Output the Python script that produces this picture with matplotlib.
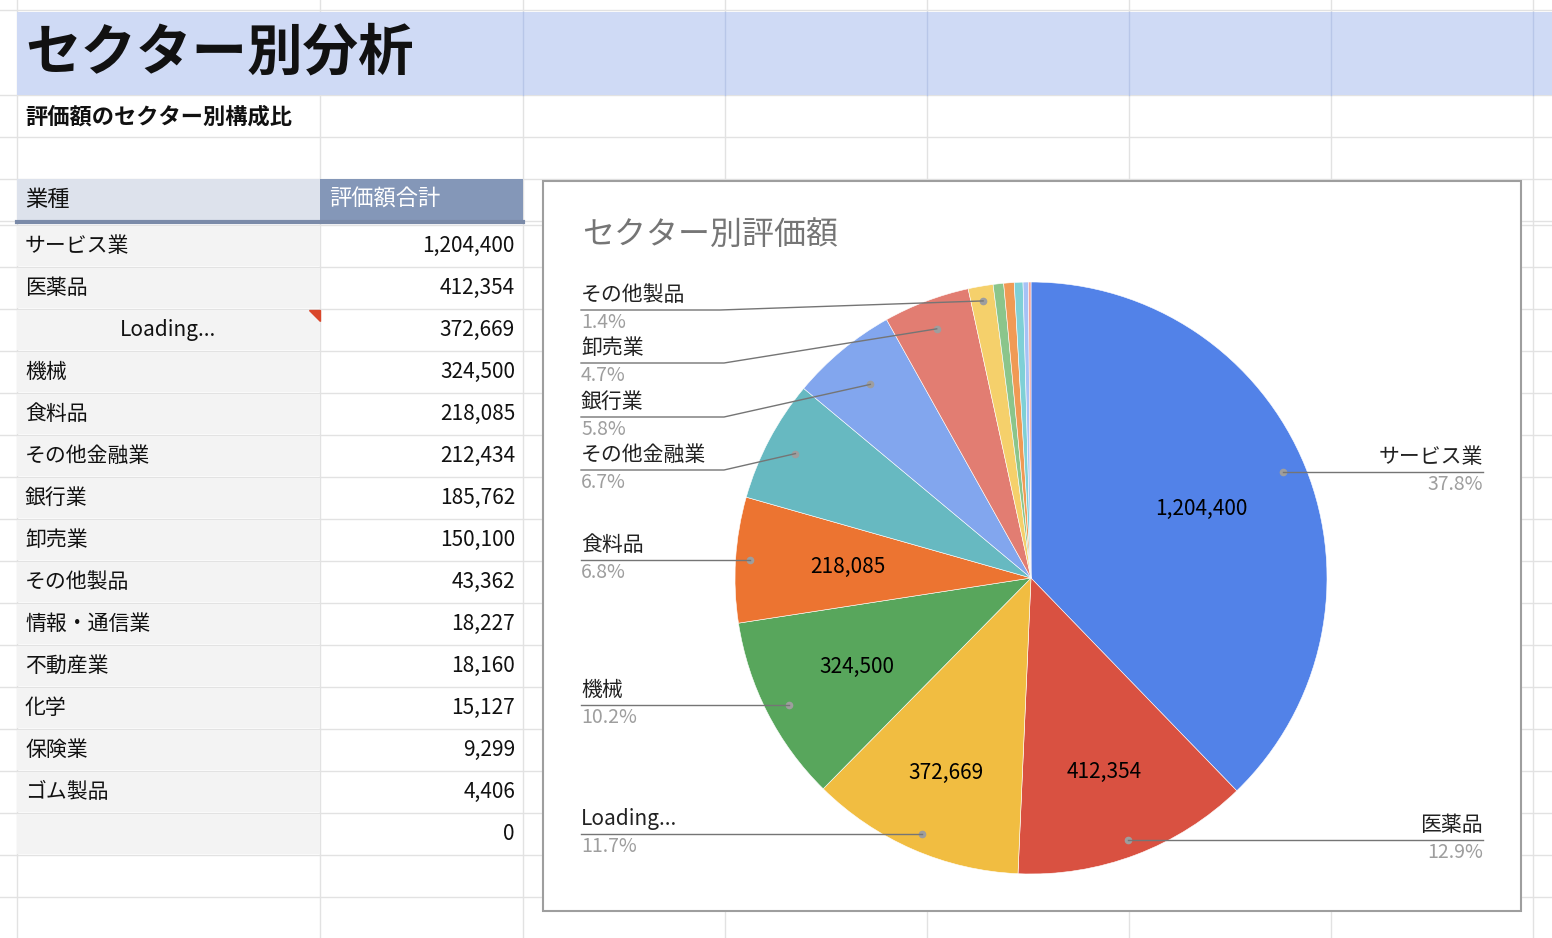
import matplotlib
matplotlib.use("Agg")
import matplotlib.pyplot as plt
from matplotlib.patches import Rectangle, Polygon
import numpy as np

plt.rcParams["font.family"] = ["Noto Sans CJK JP", "DejaVu Sans"]

title = "セクター別分析"
subtitle = "評価額のセクター別構成比"
col_headers = ["業種", "評価額合計"]
categories = ["サービス業", "医薬品", "Loading...", "機械", "食料品", "その他金融業", "銀行業",
              "卸売業", "その他製品", "情報・通信業", "不動産業", "化学", "保険業", "ゴム製品", ""]
values = [1204400, 412354, 372669, 324500, 218085, 212434, 185762,
          150100, 43362, 18227, 18160, 15127, 9299, 4406, 0]
chart_title = "セクター別評価額"
colors = ["#5282e8", "#d95141", "#f1bd41", "#58a65c", "#ec7431", "#67b9c1", "#82a6ee",
          "#e27d72", "#f5d06b", "#8bc58b", "#f09a55", "#7fd0d6", "#a6c2f6", "#f2a49c"]

W, H = 1552, 938
fig = plt.figure(figsize=(W / 100, H / 100), dpi=100)
ax = fig.add_axes([0, 0, 1, 1])
Y = lambda y: H - y

def rect(x0, y0, x1, y1, fc, ec="none", lw=0, z=1):
    ax.add_patch(Rectangle((x0, Y(y1)), x1 - x0, y1 - y0, facecolor=fc, edgecolor=ec, linewidth=lw, zorder=z))

def txt(x, y, s, **kw):
    ax.text(x, Y(y), s, **kw)

# grid
grid_c = "#e2e2e2"
vx = [17, 320, 523, 725, 927, 1129, 1331, 1533]
hy = [10, 95, 137, 179, 221] + [225 + 42 * i for i in range(17)]
for x in vx:
    ax.plot([x, x], [0, H], color=grid_c, lw=1, zorder=0)
for y in hy:
    ax.plot([0, W], [Y(y), Y(y)], color=grid_c, lw=1, zorder=0)

# title band
rect(17, 12, W, 95, "#cfdaf5", z=1)
for x in vx[2:]:
    ax.plot([x, x], [Y(12), Y(95)], color="#b8c6e8", lw=1, zorder=1.5)
txt(25, 53, title, fontsize=40, fontweight="bold", va="center", color="#111111", zorder=3)
txt(25, 117, subtitle, fontsize=16, fontweight="bold", va="center", color="#111111", zorder=3)

# table
rect(17, 179, 320, 221, "#dde2ec", z=1)
rect(320, 179, 523, 221, "#8497b8", z=1)
ax.plot([17, 523], [Y(222), Y(222)], color="#7a8aa8", lw=3, zorder=2)
txt(25, 199, col_headers[0], fontsize=16, style="italic", va="center", color="#111111", zorder=3)
txt(329, 199, col_headers[1], fontsize=16, va="center", color="white", zorder=3)
for i, (c, v) in enumerate(zip(categories, values)):
    yc = 246 + 42 * i
    rect(17, yc - 20, 320, yc + 20, "#f3f3f3", z=0.5)
    if c == "Loading...":
        txt(168, yc, c, fontsize=15, va="center", ha="center", color="#111111", zorder=3)
        ax.add_patch(Polygon([(309, Y(310)), (320, Y(310)), (320, Y(321))], color="#d9472b", zorder=3))
    else:
        txt(25, yc, c, fontsize=15, va="center", color="#111111", zorder=3)
    txt(515, yc, f"{v:,}", fontsize=15, va="center", ha="right", color="#111111", zorder=3)

# chart box
rect(543, 181, 1521, 911, "white", ec="#9e9e9e", lw=1.5, z=2)
txt(582, 235, chart_title, fontsize=23, va="center", color="#757575", zorder=3)

vals = np.array([v for v in values if v > 0], dtype=float)
labs = [c for c, v in zip(categories, values) if v > 0]
cx, cy, R = 1031, 578, 296
wedges, _ = ax.pie(vals, startangle=90, counterclock=False, center=(cx, Y(cy)), radius=R,
                   colors=colors[:len(vals)], wedgeprops=dict(edgecolor="white", linewidth=0.4))
for w in wedges:
    w.set_zorder(3)
frac = vals / vals.sum()
cum = np.cumsum(frac) - frac / 2
ang = cum * 2 * np.pi  # clockwise from top

def pt(i, r):
    return cx + r * np.sin(ang[i]), cy - r * np.cos(ang[i])

# inside values for top 5
inner_r = [0.62, 0.7, 0.72, 0.66, 0.62]
for i in range(5):
    x, y = pt(i, R * inner_r[i])
    txt(x, y, f"{int(vals[i]):,}", fontsize=15, ha="center", va="center", color="black", zorder=5)

# external labels: (index, side, label y, elbow x)
ext = [(0, "R", 472, None), (1, "R", 840, None), (2, "L", 834, None), (3, "L", 705, None),
       (4, "L", 560, None), (5, "L", 470, 724), (6, "L", 417, 724), (7, "L", 363, 724), (8, "L", 310, 720)]
dot_r = {0: 0.92, 1: 0.92, 2: 0.92, 3: 0.92, 4: 0.95, 5: 0.9, 6: 0.85, 7: 0.9, 8: 0.95}
lc = "#757575"
for i, side, ly, ex in ext:
    px, py = pt(i, R * dot_r[i])
    if ex is None:
        py = ly
    ax.plot([px], [Y(py)], "o", color="#9e9e9e", ms=4.5, zorder=6)
    if side == "R":
        ax.plot([px, 1483], [Y(ly), Y(ly)], color=lc, lw=1, zorder=6)
        txt(1483, ly - 4, labs[i], fontsize=15, ha="right", va="bottom", color="#222222", zorder=6)
        txt(1483, ly + 2, f"{frac[i]*100:.1f}%", fontsize=14, ha="right", va="top", color="#9e9e9e", zorder=6)
    else:
        if ex is None:
            ax.plot([581, px], [Y(ly), Y(ly)], color=lc, lw=1, zorder=6)
        else:
            ax.plot([581, ex, px], [Y(ly), Y(ly), Y(py)], color=lc, lw=1, zorder=6)
        txt(581, ly - 4, labs[i], fontsize=15, ha="left", va="bottom", color="#222222", zorder=6)
        txt(581, ly + 2, f"{frac[i]*100:.1f}%", fontsize=14, ha="left", va="top", color="#9e9e9e", zorder=6)

ax.set_xlim(0, W)
ax.set_ylim(0, H)
ax.set_aspect("auto")
ax.axis("off")
fig.savefig("out.png", dpi=100)
